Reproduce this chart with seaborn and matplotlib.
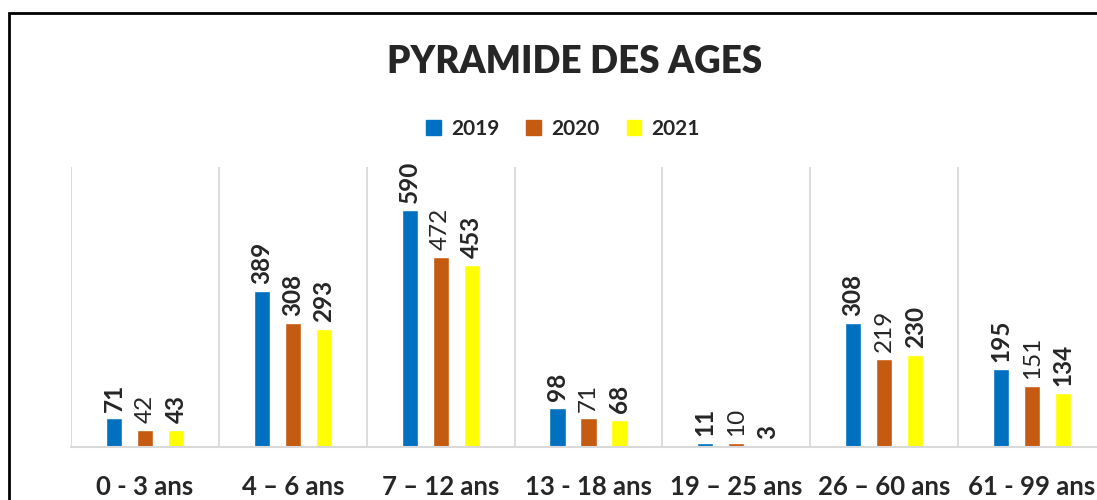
import numpy as np
import pandas as pd
import matplotlib.pyplot as plt
import matplotlib.patches as mpatches
import seaborn as sns

# données
tranches = ['0 - 3 ans', '4 – 6 ans', '7 – 12 ans', '13 - 18 ans',
            '19 – 25 ans', '26 – 60 ans', '61 - 99 ans']
annees = ['2019', '2020', '2021']
val_2019 = [71, 389, 590, 98, 11, 308, 195]
val_2020 = [42, 308, 472, 71, 10, 219, 151]
val_2021 = [43, 293, 453, 68, 3, 230, 134]
gras_2020 = [False, True, False, False, False, False, False]
couleurs = ['#0070C0', '#C55A11', '#FFFF00']

df = pd.DataFrame({
    'Tranche': tranches * 3,
    'Annee': np.repeat(annees, len(tranches)),
    'Effectif': val_2019 + val_2020 + val_2021,
})

sns.set_style('white')
plt.rcParams['font.family'] = ['Lato', 'DejaVu Sans']

fig = plt.figure(figsize=(10.97, 5.0), dpi=100)
ax = fig.add_axes([71 / 1097, 53 / 500, 1035 / 1097, 280 / 500])

sns.barplot(data=df, x='Tranche', y='Effectif', hue='Annee', palette=couleurs,
            width=0.63, gap=0.48, ax=ax, legend=False, saturation=1)

ax.set_xlim(-0.5, len(tranches) - 0.5)
ax.set_ylim(0, 697)

# séparateurs verticaux entre catégories
ax.set_xticks(np.arange(-0.5, len(tranches)), minor=True)
ax.grid(False)
ax.grid(True, which='minor', axis='x', color='#D9D9D9', linewidth=1.3)
ax.tick_params(axis='x', which='both', length=0, pad=20)
ax.set_yticks([])
for s in ['left', 'right', 'top']:
    ax.spines[s].set_visible(False)
ax.spines['bottom'].set_color('#D9D9D9')
ax.spines['bottom'].set_linewidth(1.5)
ax.set_xlabel('')
ax.set_ylabel('')
for lab in ax.get_xticklabels():
    lab.set_fontweight('bold')
    lab.set_fontsize(18.5)

# étiquettes de valeurs
gras = [[True] * len(tranches), gras_2020, [True] * len(tranches)]
for cont, flags in zip(ax.containers, gras):
    textes = ax.bar_label(cont, rotation=90, padding=5, fontsize=17.5)
    for t, g in zip(textes, flags):
        t.set_fontweight('bold' if g else 'normal')

fig.text(575 / 1097, 1 - 62 / 500, 'PYRAMIDE DES AGES', ha='center', va='center',
         fontsize=26.5, fontweight='heavy')

poignees = [mpatches.Patch(color=c, label=a) for c, a in zip(couleurs, annees)]
fig.legend(handles=poignees, loc='center', bbox_to_anchor=(563 / 1097, 1 - 129 / 500),
           ncol=3, frameon=False, handlelength=0.7, handleheight=0.7,
           handletextpad=0.5, columnspacing=1.3, prop={'weight': 'bold', 'size': 15})

# cadre extérieur
cadre = mpatches.Rectangle((9 / 1097, -0.1), 1.2, 1.1 - 13 / 500, transform=fig.transFigure,
                           fill=False, edgecolor='black', linewidth=2)
fig.patches.append(cadre)

plt.savefig('out.png', dpi=100)
